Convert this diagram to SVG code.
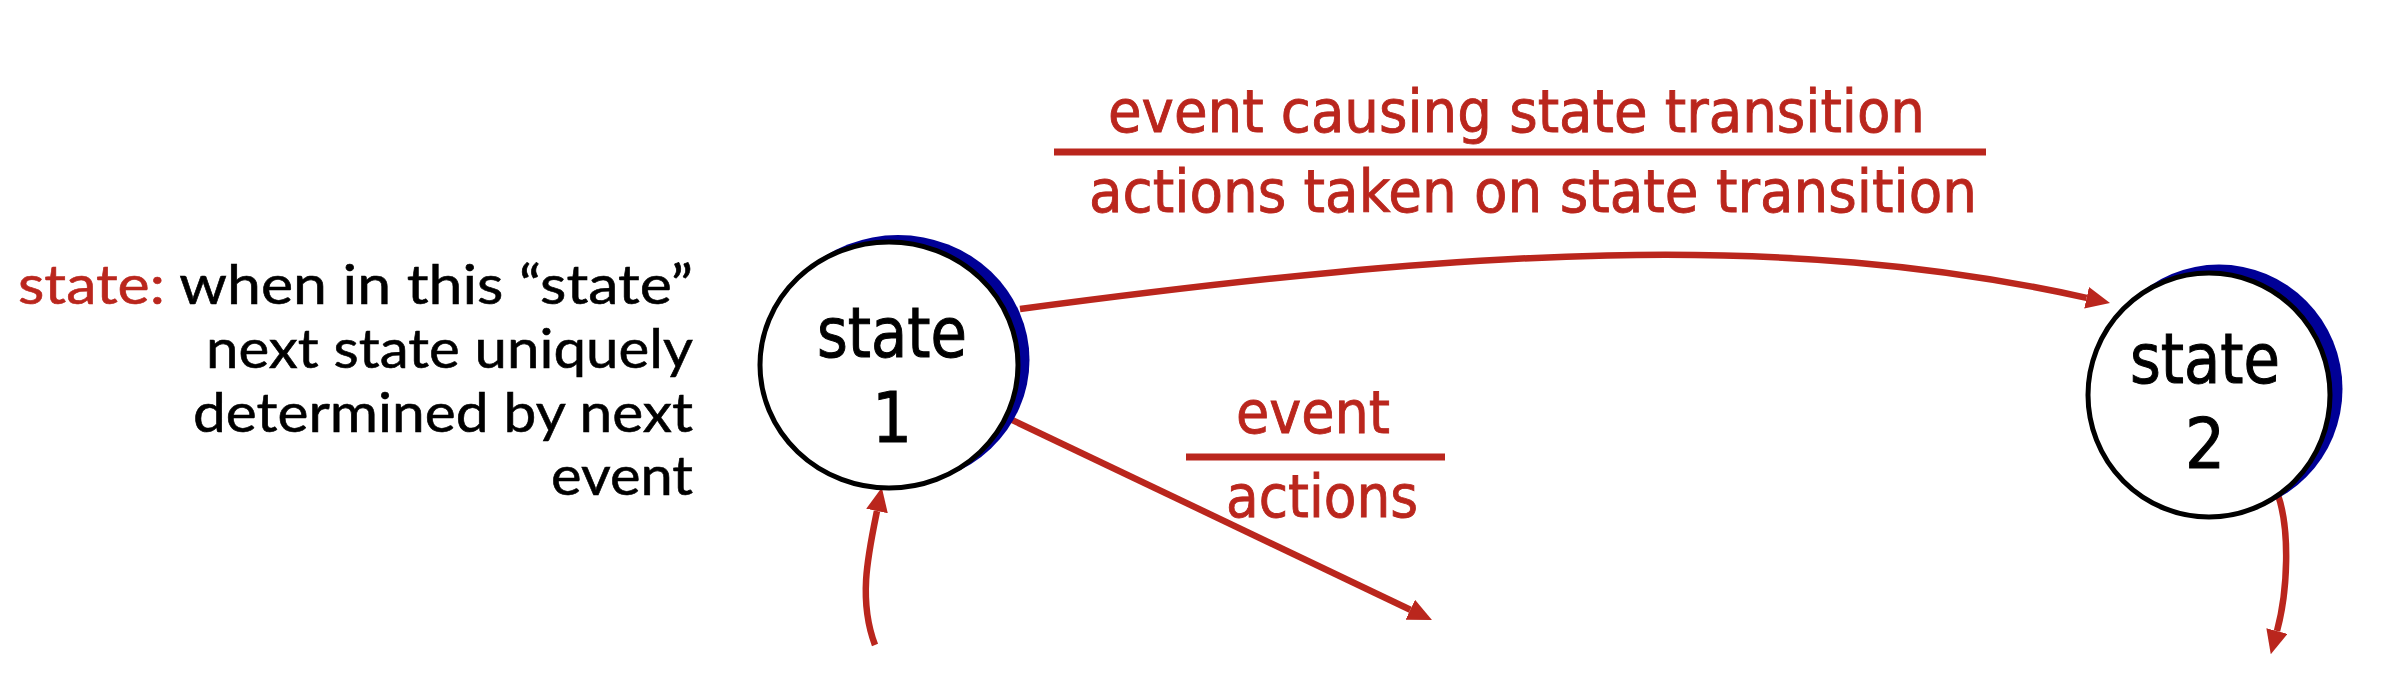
<svg xmlns="http://www.w3.org/2000/svg" width="2386" height="684" viewBox="0 0 2386 684">
  <style>
    .shadow { fill: #000096; stroke: none; }
    .circle { fill: #ffffff; stroke: #000000; stroke-width: 5; }
    .ntext { font-family: "DejaVu Sans Condensed", "DejaVu Sans", sans-serif; font-stretch: condensed; font-size: 70px; fill: #000000; stroke: #000000; stroke-width: 1; }
    .rlabel { font-family: "DejaVu Sans Condensed", "DejaVu Sans", sans-serif; font-stretch: condensed; font-size: 58px; fill: #BA261D; stroke: #BA261D; stroke-width: 0.8; }
    .desc { font-family: Lato, "Open Sans", "Liberation Sans", sans-serif; font-size: 55px; fill: #000000; stroke: #000000; stroke-width: 0.6; }
    .red { fill: #BA261D; }
    .conn { fill: none; stroke: #BA261D; stroke-width: 6.5; stroke-linecap: butt; }
  </style>
  <defs>
    <marker id="arrow" viewBox="0 0 24 22" markerWidth="24" markerHeight="22" refX="0" refY="11" orient="auto" markerUnits="userSpaceOnUse">
      <path d="M0,0 L24,11 L0,22 z" fill="#BA261D"/>
    </marker>
  </defs>

  <g id="description">
    <text class="desc" x="18" y="304" textLength="675" lengthAdjust="spacingAndGlyphs"><tspan fill="#BA261D" stroke="#BA261D">state:</tspan> when in this “state”</text>
    <text class="desc" x="206" y="368" textLength="487" lengthAdjust="spacingAndGlyphs">next state uniquely</text>
    <text class="desc" x="193" y="432" textLength="500" lengthAdjust="spacingAndGlyphs">determined by next</text>
    <text class="desc" x="551" y="495" textLength="142" lengthAdjust="spacingAndGlyphs">event</text>
  </g>

  <g id="connectors">
    <path class="conn" d="M1020,309 C1470,249 1780,230 2086.6,297.8" marker-end="url(#arrow)"/>
    <path class="conn" d="M1008,418 L1410.3,609.7" marker-end="url(#arrow)"/>
    <path class="conn" d="M875,645 C858,600 868,555 877,511" marker-end="url(#arrow)"/>
    <path class="conn" d="M2278,495 C2290,530 2288,590 2277,631" marker-end="url(#arrow)"/>
  </g>

  <g id="node-state1">
    <ellipse class="shadow" cx="898" cy="360" rx="131.5" ry="125"/>
    <ellipse class="circle" cx="889" cy="365" rx="129" ry="123"/>
    <text class="ntext" x="817" y="357" textLength="150" lengthAdjust="spacingAndGlyphs">state</text>
    <text class="ntext" x="892" y="442" text-anchor="middle">1</text>
  </g>

  <g id="node-state2">
    <ellipse class="shadow" cx="2219" cy="389" rx="123.5" ry="124.5"/>
    <ellipse class="circle" cx="2209" cy="395" rx="121" ry="122"/>
    <text class="ntext" x="2130" y="383" textLength="150" lengthAdjust="spacingAndGlyphs">state</text>
    <text class="ntext" x="2205" y="468" text-anchor="middle">2</text>
  </g>

  <g id="label-transition">
    <text class="rlabel" x="1108" y="132" textLength="817" lengthAdjust="spacingAndGlyphs">event causing state transition</text>
    <rect class="red" x="1054" y="148.5" width="932" height="7"/>
    <text class="rlabel" x="1089" y="212" textLength="888" lengthAdjust="spacingAndGlyphs">actions taken on state transition</text>
  </g>

  <g id="label-event">
    <text class="rlabel" x="1236" y="433" textLength="154" lengthAdjust="spacingAndGlyphs">event</text>
    <rect class="red" x="1186" y="453.5" width="259" height="7"/>
    <text class="rlabel" x="1226" y="517" textLength="192" lengthAdjust="spacingAndGlyphs">actions</text>
  </g>
</svg>
